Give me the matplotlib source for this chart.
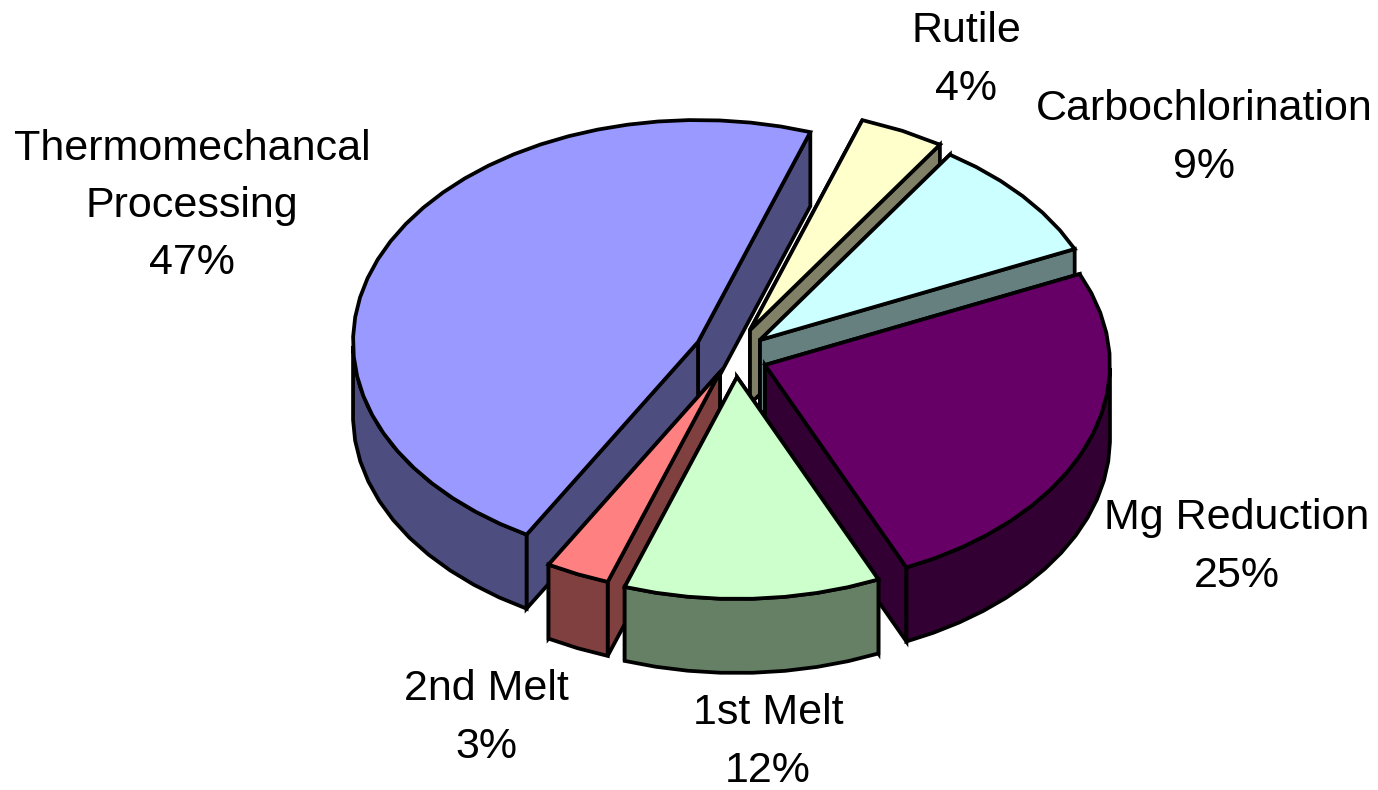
import numpy as np
import matplotlib
matplotlib.use("Agg")
import matplotlib.pyplot as plt
from matplotlib.patches import Polygon

# slices, anticlockwise from the top
labels = ["Thermomechancal\nProcessing", "2nd Melt", "1st Melt", "Mg Reduction", "Carbochlorination", "Rutile"]
values = [47, 3, 12, 25, 9, 4]
top_colours = ["#9999FF", "#FF8080", "#CCFFCC", "#660066", "#CCFFFF", "#FFFFCC"]
side_colours = ["#4D4D80", "#804040", "#668066", "#330033", "#668080", "#808066"]

# where each exploded wedge has its tip, and where its label sits (pixels)
tips = [(698, 342), (720, 372), (737, 377), (765, 365), (760, 340), (750, 330)]
label_pos = [(192, 206), (486, 718), (768, 742), (1237, 547), (1204, 138), (966, 60)]
draw_order = [5, 4, 0, 3, 1, 2]

start_angle = 71.0
rx, ry = 345, 222
depth = 74
edge = dict(edgecolor="black", linewidth=2.7, joinstyle="miter")

fig, ax = plt.subplots(figsize=(13.78, 7.90), dpi=100)
ax.set_position([0, 0, 1, 1])
ax.set_xlim(0, 1378)
ax.set_ylim(790, 0)
ax.axis("off")


def rim(tip, a0, a1):
    # stepped outline, the original has a coarse faceted edge
    n = max(2, int((a1 - a0) / 5) + 1)
    t = np.radians(np.linspace(a0, a1, n))
    return np.column_stack([tip[0] + rx * np.cos(t), tip[1] - ry * np.sin(t)])


bounds = start_angle + np.concatenate([[0], np.cumsum(values) * 3.6])

for i in draw_order:
    tip = np.array(tips[i], dtype=float)
    a0, a1 = bounds[i], bounds[i + 1]
    arc = rim(tip, a0, a1)
    down = np.array([0, depth])

    # two cut faces, the one facing away goes first so it can't draw over the other
    faces = [(np.sin(np.radians(a0 - 90)), 0), (np.sin(np.radians(a1 + 90)), 1)]
    for _, which in sorted(faces, reverse=True):
        end = arc[-1] if which else arc[0]
        ax.add_patch(Polygon([tip, end, end + down, tip + down], closed=True,
                             facecolor=side_colours[i], **edge))

    # outer wall, only the part on the front half shows
    front = [a for a in np.arange(a0, a1 + 0.01, 5.0) if np.sin(np.radians(a)) < 0]
    if front:
        lo = max(a0, front[0] - 5) if np.sin(np.radians(a0)) < 0 else front[0]
        hi = min(a1, front[-1] + 5) if np.sin(np.radians(a1)) < 0 else front[-1]
        wall = rim(tip, lo, hi)
        ax.add_patch(Polygon(np.vstack([wall, (wall + down)[::-1]]), closed=True,
                             facecolor=side_colours[i], **edge))

    ax.add_patch(Polygon(np.vstack([tip, arc]), closed=True, facecolor=top_colours[i], **edge))

for name, val, pos in zip(labels, values, label_pos):
    ax.text(pos[0], pos[1], f"{name}\n{val}%", ha="center", va="center",
            family="Liberation Sans", fontsize=31, linespacing=1.55, color="black")

fig.savefig("out.png", dpi=100)
